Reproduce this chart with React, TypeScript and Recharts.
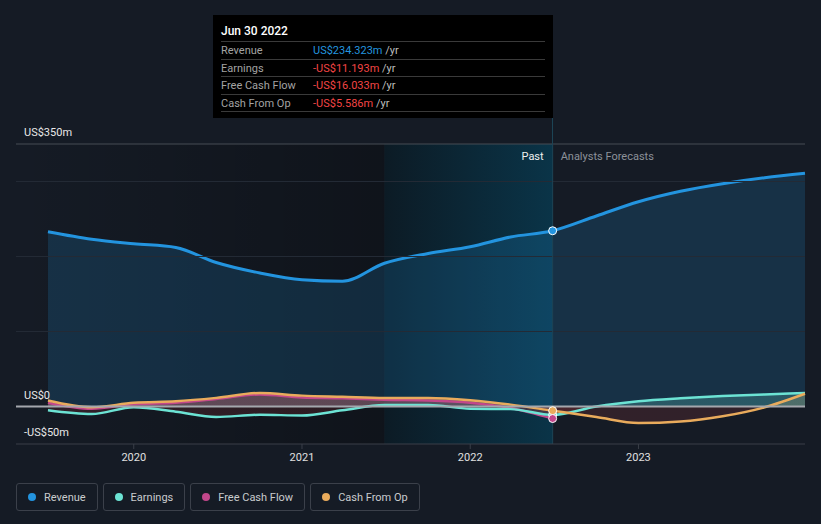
import React from "react";
import {
  ComposedChart,
  Area,
  XAxis,
  YAxis,
  ReferenceLine,
  ReferenceArea,
  ReferenceDot,
} from "recharts";

// quarter ends (fractional years), past then analyst forecasts
const dates = [
  2019.49, 2019.75, 2020.0, 2020.25, 2020.49, 2020.75, 2021.0, 2021.24, 2021.49,
  2021.75, 2022.0, 2022.24, 2022.49, 2022.75, 2023.0, 2023.25, 2023.5, 2023.75, 2023.99,
];
const revenue = [233, 223, 217, 212, 192, 178, 169, 167, 191, 204, 213, 226, 234.323, 254, 273, 287, 297, 305, 311];
const earnings = [-5, -10, -1, -7, -14, -11, -12, -5, 2, 2, -3, -3.5, -11.193, 0, 7, 11, 14, 16, 18];
const freeCashFlow = [5, -3, 3, 5, 10, 16, 12, 11, 9, 8, 5, -2, -16.033, null, null, null, null, null, null];
const cashFromOp = [8, -1, 5, 7, 11.5, 18, 14.5, 13, 11.5, 11.5, 8.4, 2.5, -5.586, -14, -22, -20, -13, -1, 17];

const yearTicks = [2020, 2021, 2022, 2023];
const valueTicks = [-50, 0, 350];
const gridValues = [100, 200, 300];
const pastIndex = 12;
const pastLabel = "Jun 30 2022";
const lastYearStart = 2021.49;

const data = dates.map((t, i) => ({
  t,
  revenue: revenue[i],
  earnings: earnings[i],
  fcf: freeCashFlow[i],
  cashOp: cashFromOp[i],
}));

const colors = {
  revenue: "#2394df",
  earnings: "#6ce3d4",
  fcf: "#c2478b",
  cashOp: "#e9ab5c",
  negative: "#ff4d4d",
};

const W = 821;
const H = 480;
const plotTop = 144;
const plotBottom = 444;
const font = "Roboto, 'Open Sans', Arial, sans-serif";
const zeroOffset = 350 / 400;

const fmtAxis = (v: number) => (v === 0 ? "US$0" : v < 0 ? `-US$${-v}m` : `US$${v}m`);
const fmtMoney = (v: number) => (v < 0 ? `-US$${(-v).toFixed(3)}m` : `US$${v.toFixed(3)}m`);

const series = [
  { key: "revenue", name: "Revenue", color: colors.revenue, values: revenue },
  { key: "earnings", name: "Earnings", color: colors.earnings, values: earnings },
  { key: "fcf", name: "Free Cash Flow", color: colors.fcf, values: freeCashFlow },
  { key: "cashOp", name: "Cash From Op", color: colors.cashOp, values: cashFromOp },
];

function SplitGradient({ id, color }: { id: string; color: string }) {
  return (
    <linearGradient id={id} gradientUnits="userSpaceOnUse" x1="0" y1={plotTop} x2="0" y2={plotBottom}>
      <stop offset="0" stopColor={color} stopOpacity={0.22} />
      <stop offset={zeroOffset} stopColor={color} stopOpacity={0.22} />
      <stop offset={zeroOffset} stopColor={colors.negative} stopOpacity={0.12} />
      <stop offset="1" stopColor={colors.negative} stopOpacity={0.12} />
    </linearGradient>
  );
}

export default function App() {
  const tipT = dates[pastIndex];
  return (
    <div style={{ position: "relative", width: W, height: 524, background: "#151b25", fontFamily: font }}>
      <style>{`body{margin:0;background:#151b25}`}</style>
      <ComposedChart
        width={W}
        height={H}
        data={data}
        margin={{ top: plotTop, right: 16, bottom: H - plotBottom - 24, left: 16 }}
      >
        <defs>
          <linearGradient id="pastShade" x1="0" y1="0" x2="1" y2="0">
            <stop offset="0" stopColor="#000" stopOpacity={0} />
            <stop offset="1" stopColor="#000" stopOpacity={0.28} />
          </linearGradient>
          <linearGradient id="lastYear" x1="0" y1="0" x2="1" y2="0">
            <stop offset="0" stopColor="#0c1b25" />
            <stop offset="1" stopColor="#0a3448" />
          </linearGradient>
          <SplitGradient id="fillEarnings" color={colors.earnings} />
          <SplitGradient id="fillFcf" color={colors.fcf} />
          <SplitGradient id="fillCashOp" color={colors.cashOp} />
        </defs>
        <XAxis
          dataKey="t"
          type="number"
          domain={[2019.3, 2023.99]}
          ticks={yearTicks}
          tickFormatter={(v) => String(v)}
          axisLine={{ stroke: "#3a3f48" }}
          tickLine={{ stroke: "#3a3f48" }}
          tickSize={5}
          tickMargin={4}
          height={24}
          tick={{ fill: "#e0e0e0", fontSize: 11, fontFamily: font }}
        />
        <YAxis type="number" domain={[-50, 350]} hide />
        <ReferenceArea x1={2019.3} x2={lastYearStart} fill="url(#pastShade)" fillOpacity={1} ifOverflow="visible" />
        <ReferenceArea x1={lastYearStart} x2={tipT} fill="url(#lastYear)" fillOpacity={1} ifOverflow="visible" />
        {gridValues.map((v) => (
          <ReferenceLine key={v} y={v} stroke="#232a35" strokeWidth={1} />
        ))}
        <ReferenceLine y={350} stroke="#474c55" />
        <ReferenceLine
          x={tipT}
          stroke="#1c4455"
          label={(p: any) => (
            <g fontFamily={font} fontSize={11}>
              <text x={p.viewBox.x - 9} y={plotTop + 16} textAnchor="end" fill="#f0f0f0">
                Past
              </text>
              <text x={p.viewBox.x + 8} y={plotTop + 16} fill="#8c9199">
                Analysts Forecasts
              </text>
            </g>
          )}
        />
        <Area
          type="monotone"
          dataKey="revenue"
          stroke={colors.revenue}
          strokeWidth={3}
          fill={colors.revenue}
          fillOpacity={0.18}
          dot={false}
          activeDot={false}
          isAnimationActive={false}
        />
        <Area
          type="monotone"
          dataKey="cashOp"
          stroke="none"
          fill="url(#fillCashOp)"
          fillOpacity={1}
          dot={false}
          activeDot={false}
          isAnimationActive={false}
        />
        <Area
          type="monotone"
          dataKey="fcf"
          stroke="none"
          fill="url(#fillFcf)"
          fillOpacity={1}
          dot={false}
          activeDot={false}
          isAnimationActive={false}
        />
        <Area
          type="monotone"
          dataKey="earnings"
          stroke="none"
          fill="url(#fillEarnings)"
          fillOpacity={1}
          dot={false}
          activeDot={false}
          isAnimationActive={false}
        />
        <ReferenceLine y={0} stroke="#a4a7ad" strokeWidth={2} />
        {valueTicks.map((v) => (
          <ReferenceLine
            key={`lbl${v}`}
            y={v}
            stroke="none"
            label={(p: any) => (
              <text x={p.viewBox.x + 8} y={p.viewBox.y - 8} fill="#e8e8e8" fontSize={11} fontFamily={font}>
                {fmtAxis(v)}
              </text>
            )}
          />
        ))}
        <Area
          type="monotone"
          dataKey="fcf"
          stroke={colors.fcf}
          strokeWidth={2.5}
          fill="none"
          dot={false}
          activeDot={false}
          isAnimationActive={false}
        />
        <Area
          type="monotone"
          dataKey="earnings"
          stroke={colors.earnings}
          strokeWidth={2.5}
          fill="none"
          dot={false}
          activeDot={false}
          isAnimationActive={false}
        />
        <Area
          type="monotone"
          dataKey="cashOp"
          stroke={colors.cashOp}
          strokeWidth={2.5}
          fill="none"
          dot={false}
          activeDot={false}
          isAnimationActive={false}
        />
        <ReferenceDot x={tipT} y={earnings[pastIndex]} r={4} fill={colors.earnings} stroke="#fff" strokeWidth={1} />
        <ReferenceDot x={tipT} y={cashFromOp[pastIndex]} r={4} fill={colors.cashOp} stroke="#fff" strokeWidth={1} />
        <ReferenceDot x={tipT} y={freeCashFlow[pastIndex] as number} r={4} fill={colors.fcf} stroke="#fff" strokeWidth={1} />
        <ReferenceDot x={tipT} y={revenue[pastIndex]} r={4} fill={colors.revenue} stroke="#fff" strokeWidth={1} />
      </ComposedChart>

      {/* cursor line continues up to the tooltip */}
      <div style={{ position: "absolute", left: 552, top: 118, width: 1, height: plotTop - 118, background: "#1c4455" }} />

      <div
        style={{
          position: "absolute",
          left: 213,
          top: 15,
          width: 340,
          height: 103,
          background: "#000",
          boxSizing: "border-box",
          padding: "0 8px",
        }}
      >
        <div style={{ height: 26, lineHeight: "32px", fontSize: 12, color: "#fff", fontWeight: 500 }}>{pastLabel}</div>
        {series.map((s) => {
          const v = s.values[pastIndex] as number;
          return (
            <div
              key={s.key}
              style={{
                borderTop: "1px solid #3a3a3a",
                height: 16.5,
                lineHeight: "17px",
                fontSize: 11,
                display: "flex",
                whiteSpace: "nowrap",
              }}
            >
              <span style={{ width: 92, color: "#a3a3a3" }}>{s.name}</span>
              <span style={{ color: v < 0 ? "#f24545" : colors.revenue }}>{fmtMoney(v)}</span>
              <span style={{ color: "#bdbdbd" }}>&nbsp;/yr</span>
            </div>
          );
        })}
        <div style={{ borderTop: "1px solid #3a3a3a" }} />
      </div>

      <div style={{ position: "absolute", left: 16, top: 483, display: "flex", gap: 5 }}>
        {series.map((s) => (
          <div
            key={s.key}
            style={{
              height: 28,
              boxSizing: "border-box",
              border: "1px solid #3b404a",
              borderRadius: 3,
              display: "flex",
              alignItems: "center",
              padding: "0 11px 0 11px",
              fontSize: 11,
              color: "#c9cbce",
            }}
          >
            <span
              style={{ width: 8, height: 8, borderRadius: 4, background: s.color, marginRight: 8, display: "inline-block" }}
            />
            {s.name}
          </div>
        ))}
      </div>
    </div>
  );
}
